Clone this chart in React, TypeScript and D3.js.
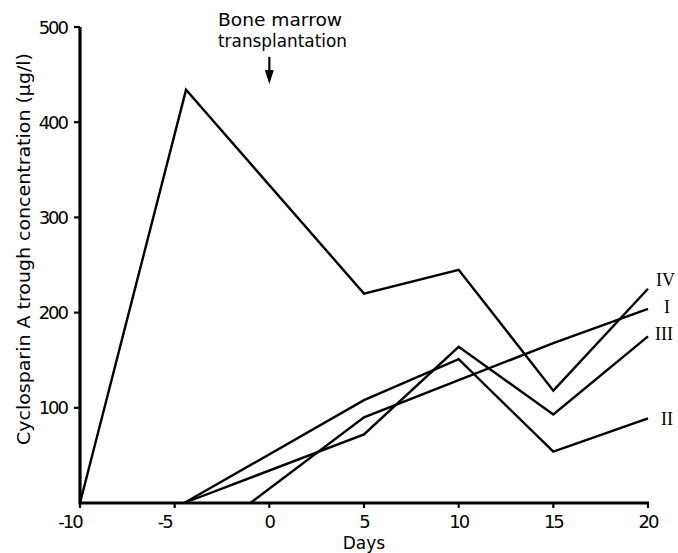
import React from "react";
import * as d3 from "d3";

const xTicks = [-10, -5, 0, 5, 10, 15, 20];
const yTicks = [100, 200, 300, 400, 500];

const seriesIVDays = [-10, -4.4, 5, 10, 15, 20];
const seriesIVValues = [0, 434, 220, 245, 118, 225];

const seriesIDays = [-1, 5, 10, 15, 20];
const seriesIValues = [0, 90, 129, 168, 204];

const seriesIIIDays = [-4.5, 5, 10, 15, 20];
const seriesIIIValues = [0, 72, 164, 93, 175];

const seriesIIDays = [-4.5, 5, 10, 15, 20];
const seriesIIValues = [0, 108, 151, 54, 89];

const seriesNames = ["IV", "I", "III", "II"];

const W = 678;
const H = 553;

export default function App() {
  const x = d3.scaleLinear().domain([-10, 20]).range([80, 648]);
  const y = d3.scaleLinear().domain([0, 500]).range([503, 27]);

  const line = d3
    .line<[number, number]>()
    .x((d) => x(d[0]))
    .y((d) => y(d[1]));

  const all = [
    { name: seriesNames[0], days: seriesIVDays, vals: seriesIVValues },
    { name: seriesNames[1], days: seriesIDays, vals: seriesIValues },
    { name: seriesNames[2], days: seriesIIIDays, vals: seriesIIIValues },
    { name: seriesNames[3], days: seriesIIDays, vals: seriesIIValues },
  ];

  const labelDy: Record<string, number> = { IV: -3, I: 4, III: 4, II: 7 };
  const labelX: Record<string, number> = { IV: 656, I: 664, III: 655, II: 661 };

  const numFont = "'DejaVu Sans', sans-serif";

  return (
    <svg width={W} height={H} style={{ display: "block", position: "absolute", left: 0, top: 0 }}>
      <rect width={W} height={H} fill="#fff" />
      {all.map((s) => (
        <path
          key={s.name}
          d={line(s.days.map((d, i) => [d, s.vals[i]] as [number, number])) || ""}
          fill="none"
          stroke="#000"
          strokeWidth={2.4}
          strokeLinejoin="miter"
        />
      ))}
      <line x1={x(-10)} x2={x(-10)} y1={y(0) + 1.5} y2={y(500)} stroke="#000" strokeWidth={3.2} />
      <line x1={x(-10)} x2={x(20) + 1} y1={y(0)} y2={y(0)} stroke="#000" strokeWidth={3.2} />
      {yTicks.map((t) => (
        <g key={"y" + t}>
          <line x1={x(-10) - 6} x2={x(-10)} y1={y(t)} y2={y(t)} stroke="#000" strokeWidth={2.2} />
          <text
            x={x(-10) - 13}
            y={y(t) + 6.5}
            textAnchor="end"
            fontFamily={numFont}
            fontSize={18}
            letterSpacing={-2}
          >
            {t}
          </text>
        </g>
      ))}
      {xTicks.map((t) => (
        <g key={"x" + t}>
          <line x1={x(t)} x2={x(t)} y1={y(0)} y2={y(0) + 5} stroke="#000" strokeWidth={2.2} />
          <text
            x={x(t) + (t < 0 ? -10 : 0)}
            y={528}
            textAnchor="middle"
            fontFamily={numFont}
            fontSize={18}
            letterSpacing={-2}
          >
            {t}
          </text>
        </g>
      ))}
      <text x={x(5)} y={549} textAnchor="middle" fontFamily={numFont} fontSize={17}>
        Days
      </text>
      <text
        transform="translate(30,249) rotate(-90)"
        textAnchor="middle"
        fontFamily={numFont}
        fontSize={18}
        textLength={392}
        lengthAdjust="spacingAndGlyphs"
      >
        Cyclosparin  A  trough  concentration  (µg/l)
      </text>
      <text x={218} y={26} fontFamily={numFont} fontSize={17} textLength={124} lengthAdjust="spacingAndGlyphs">
        Bone marrow
      </text>
      <text x={218} y={47} fontFamily={numFont} fontSize={17} textLength={129} lengthAdjust="spacingAndGlyphs">
        transplantation
      </text>
      <line x1={x(0)} x2={x(0)} y1={57} y2={72} stroke="#000" strokeWidth={2.2} />
      <path d={`M${x(0) - 4.5},${70} L${x(0) + 4.5},${70} L${x(0)},${84} Z`} fill="#000" />
      {all.map((s) => {
        const last = s.vals[s.vals.length - 1];
        return (
          <text
            key={"l" + s.name}
            x={labelX[s.name]}
            y={y(last) + labelDy[s.name]}
            fontFamily="'Liberation Serif', serif"
            fontSize={18}
          >
            {s.name}
          </text>
        );
      })}
    </svg>
  );
}
